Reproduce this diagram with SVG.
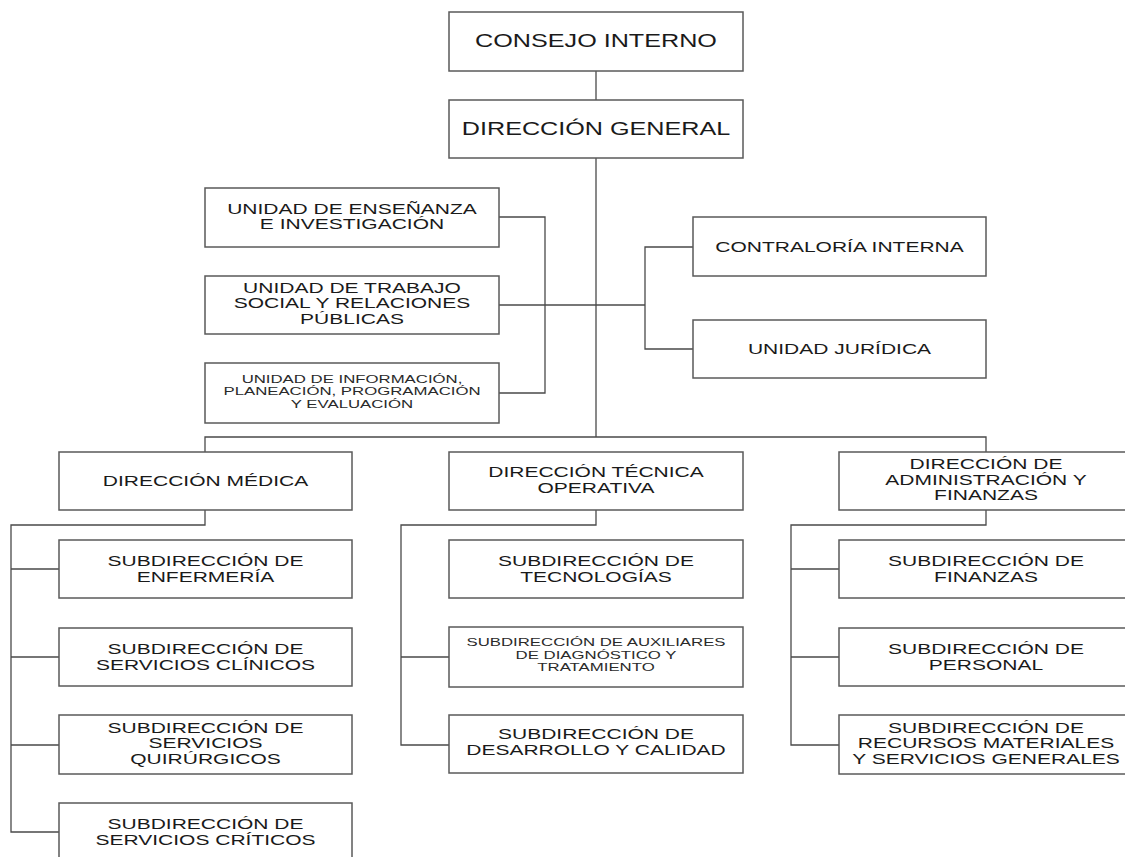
<svg xmlns="http://www.w3.org/2000/svg" width="1125" height="857" viewBox="0 0 1125 857">
<style>
.box{fill:#fff;stroke:#5a5a5a;stroke-width:1.5}
.ln{fill:none;stroke:#4a4a4a;stroke-width:1.3}
text{font-family:"Liberation Sans",Arial,sans-serif;fill:#1a1a1a;text-anchor:middle}
.b{font-size:18.5px}
.t{font-size:14.6px}
.s{font-size:10.3px;fill:#2a2a2a}
</style>
<rect width="1125" height="857" fill="#fff"/>
<g id="connectors">
<path class="ln" d="M596,71V100"/>
<path class="ln" d="M596,158V437"/>
<path class="ln" d="M205,452V437H986V452"/>
<path class="ln" d="M499,217H545V393H499"/>
<path class="ln" d="M499,305H645"/>
<path class="ln" d="M693,247H645V349H693"/>
<path class="ln" d="M205,510V525H11V832H59M11,569H59M11,657H59M11,745H59"/>
<path class="ln" d="M596,510V525H401V745H449M401,657H449"/>
<path class="ln" d="M986,510V525H791V745H839M791,569H839M791,657H839"/>
</g>
<g id="consejo"><rect class="box" x="449" y="12" width="294" height="59"/>
<text class="b" transform="translate(596,0) scale(1.36,1)"><tspan x="0" y="47.5">CONSEJO INTERNO</tspan></text></g>
<g id="general"><rect class="box" x="449" y="100" width="294" height="58"/>
<text class="b" transform="translate(596,0) scale(1.36,1)"><tspan x="0" y="135.5">DIRECCIÓN GENERAL</tspan></text></g>
<g id="ensenanza"><rect class="box" x="205" y="188" width="294" height="59"/>
<text class="t" transform="translate(352,0) scale(1.44,1)"><tspan x="0" y="214">UNIDAD DE ENSEÑANZA</tspan><tspan x="0" y="229.5">E INVESTIGACIÓN</tspan></text></g>
<g id="trabajo"><rect class="box" x="205" y="276" width="294" height="58"/>
<text class="t" transform="translate(352,0) scale(1.44,1)"><tspan x="0" y="293">UNIDAD DE TRABAJO</tspan><tspan x="0" y="308.5">SOCIAL Y RELACIONES</tspan><tspan x="0" y="324">PÚBLICAS</tspan></text></g>
<g id="informacion"><rect class="box" x="205" y="363" width="294" height="60"/>
<text class="s" transform="translate(352,0) scale(1.63,1)"><tspan x="0" y="383">UNIDAD DE INFORMACIÓN,</tspan><tspan x="0" y="395.5">PLANEACIÓN, PROGRAMACIÓN</tspan><tspan x="0" y="408">Y EVALUACIÓN</tspan></text></g>
<g id="contraloria"><rect class="box" x="693" y="217" width="293" height="59"/>
<text class="t" transform="translate(839.5,0) scale(1.44,1)"><tspan x="0" y="252">CONTRALORÍA INTERNA</tspan></text></g>
<g id="juridica"><rect class="box" x="693" y="320" width="293" height="58"/>
<text class="t" transform="translate(839.5,0) scale(1.44,1)"><tspan x="0" y="354">UNIDAD JURÍDICA</tspan></text></g>
<g id="medica"><rect class="box" x="59" y="452" width="293" height="58"/>
<text class="t" transform="translate(205.5,0) scale(1.44,1)"><tspan x="0" y="486">DIRECCIÓN MÉDICA</tspan></text></g>
<g id="tecnica"><rect class="box" x="449" y="452" width="294" height="58"/>
<text class="t" transform="translate(596,0) scale(1.44,1)"><tspan x="0" y="477.5">DIRECCIÓN TÉCNICA</tspan><tspan x="0" y="493">OPERATIVA</tspan></text></g>
<g id="admin"><rect class="box" x="839" y="452" width="300" height="58"/>
<text class="t" transform="translate(986,0) scale(1.44,1)"><tspan x="0" y="469.5">DIRECCIÓN DE</tspan><tspan x="0" y="485">ADMINISTRACIÓN Y</tspan><tspan x="0" y="500.5">FINANZAS</tspan></text></g>
<g id="enfermeria"><rect class="box" x="59" y="540" width="293" height="58"/>
<text class="t" transform="translate(205.5,0) scale(1.44,1)"><tspan x="0" y="566.5">SUBDIRECCIÓN DE</tspan><tspan x="0" y="582">ENFERMERÍA</tspan></text></g>
<g id="clinicos"><rect class="box" x="59" y="628" width="293" height="58"/>
<text class="t" transform="translate(205.5,0) scale(1.44,1)"><tspan x="0" y="654.5">SUBDIRECCIÓN DE</tspan><tspan x="0" y="670">SERVICIOS CLÍNICOS</tspan></text></g>
<g id="quirurgicos"><rect class="box" x="59" y="715" width="293" height="59"/>
<text class="t" transform="translate(205.5,0) scale(1.44,1)"><tspan x="0" y="733">SUBDIRECCIÓN DE</tspan><tspan x="0" y="748.5">SERVICIOS</tspan><tspan x="0" y="764">QUIRÚRGICOS</tspan></text></g>
<g id="criticos"><rect class="box" x="59" y="803" width="293" height="70"/>
<text class="t" transform="translate(205.5,0) scale(1.44,1)"><tspan x="0" y="829.5">SUBDIRECCIÓN DE</tspan><tspan x="0" y="845">SERVICIOS CRÍTICOS</tspan></text></g>
<g id="tecnologias"><rect class="box" x="449" y="540" width="294" height="58"/>
<text class="t" transform="translate(596,0) scale(1.44,1)"><tspan x="0" y="566.5">SUBDIRECCIÓN DE</tspan><tspan x="0" y="582">TECNOLOGÍAS</tspan></text></g>
<g id="auxiliares"><rect class="box" x="449" y="627" width="294" height="60"/>
<text class="s" transform="translate(596,0) scale(1.63,1)"><tspan x="0" y="646.5">SUBDIRECCIÓN DE AUXILIARES</tspan><tspan x="0" y="659">DE DIAGNÓSTICO Y</tspan><tspan x="0" y="671.5">TRATAMIENTO</tspan></text></g>
<g id="desarrollo"><rect class="box" x="449" y="715" width="294" height="58"/>
<text class="t" transform="translate(596,0) scale(1.44,1)"><tspan x="0" y="739.5">SUBDIRECCIÓN DE</tspan><tspan x="0" y="755">DESARROLLO Y CALIDAD</tspan></text></g>
<g id="finanzas"><rect class="box" x="839" y="540" width="300" height="58"/>
<text class="t" transform="translate(986,0) scale(1.44,1)"><tspan x="0" y="566.5">SUBDIRECCIÓN DE</tspan><tspan x="0" y="582">FINANZAS</tspan></text></g>
<g id="personal"><rect class="box" x="839" y="628" width="300" height="58"/>
<text class="t" transform="translate(986,0) scale(1.44,1)"><tspan x="0" y="654.5">SUBDIRECCIÓN DE</tspan><tspan x="0" y="670">PERSONAL</tspan></text></g>
<g id="recursos"><rect class="box" x="839" y="715" width="300" height="59"/>
<text class="t" transform="translate(986,0) scale(1.44,1)"><tspan x="0" y="733">SUBDIRECCIÓN DE</tspan><tspan x="0" y="748.5">RECURSOS MATERIALES</tspan><tspan x="0" y="764">Y SERVICIOS GENERALES</tspan></text></g>
</svg>
